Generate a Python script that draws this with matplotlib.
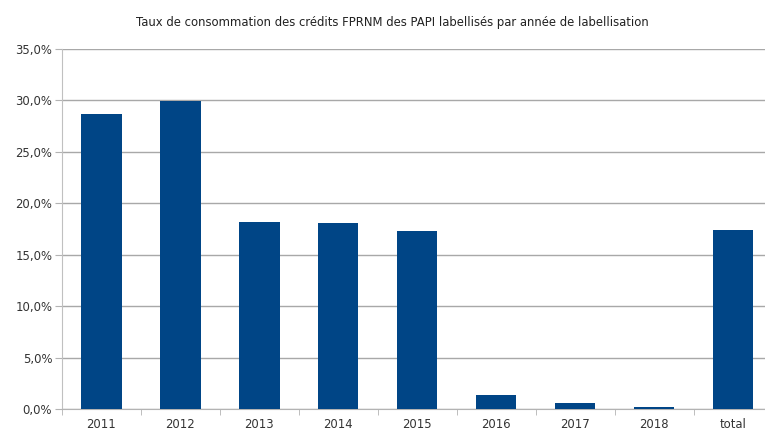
import matplotlib.pyplot as plt
import numpy as np
from matplotlib.ticker import FuncFormatter, FixedLocator

# données
annees = ["2011", "2012", "2013", "2014", "2015", "2016", "2017", "2018", "total"]
taux = [28.7, 29.95, 18.2, 18.05, 17.3, 1.35, 0.55, 0.17, 17.45]

plt.rcParams['font.family'] = ['DejaVu Sans']

fig = plt.figure(figsize=(7.65, 4.32), dpi=100)
ax = fig.add_axes([0.081, 0.0532, 0.929, 0.8334])

x = np.arange(len(annees))
ax.bar(x, taux, width=0.51, color='#004586', zorder=3)

ax.set_xlim(-0.5, len(annees) - 0.5)
ax.set_ylim(0, 35)
ax.set_yticks(np.arange(0, 35.1, 5))
ax.yaxis.set_major_formatter(FuncFormatter(lambda v, p: f"{v:.1f}%".replace('.', ',')))
ax.grid(axis='y', color='#a8a8a8', linewidth=1, zorder=0)

ax.set_xticks(x)
ax.set_xticklabels(annees)
ax.xaxis.set_minor_locator(FixedLocator(np.arange(-0.5, len(annees), 1)))
ax.tick_params(axis='x', which='major', length=0, pad=6.5, labelsize=8.4, labelcolor='#333333')
ax.tick_params(axis='x', which='minor', length=4, color='#b3b3b3')
ax.tick_params(axis='y', length=5, color='#b3b3b3', labelsize=8.4, labelcolor='#333333', pad=2)

for s in ['top', 'right']:
    ax.spines[s].set_visible(False)
ax.spines['left'].set_color('#c0c0c0')
ax.spines['bottom'].set_color('#b3b3b3')

fig.text(0.513, 0.948, "Taux de consommation des crédits FPRNM des PAPI labellisés par année de labellisation",
         ha='center', va='center', fontsize=8.4, color='#222222')

fig.savefig("out.png", dpi=100)
